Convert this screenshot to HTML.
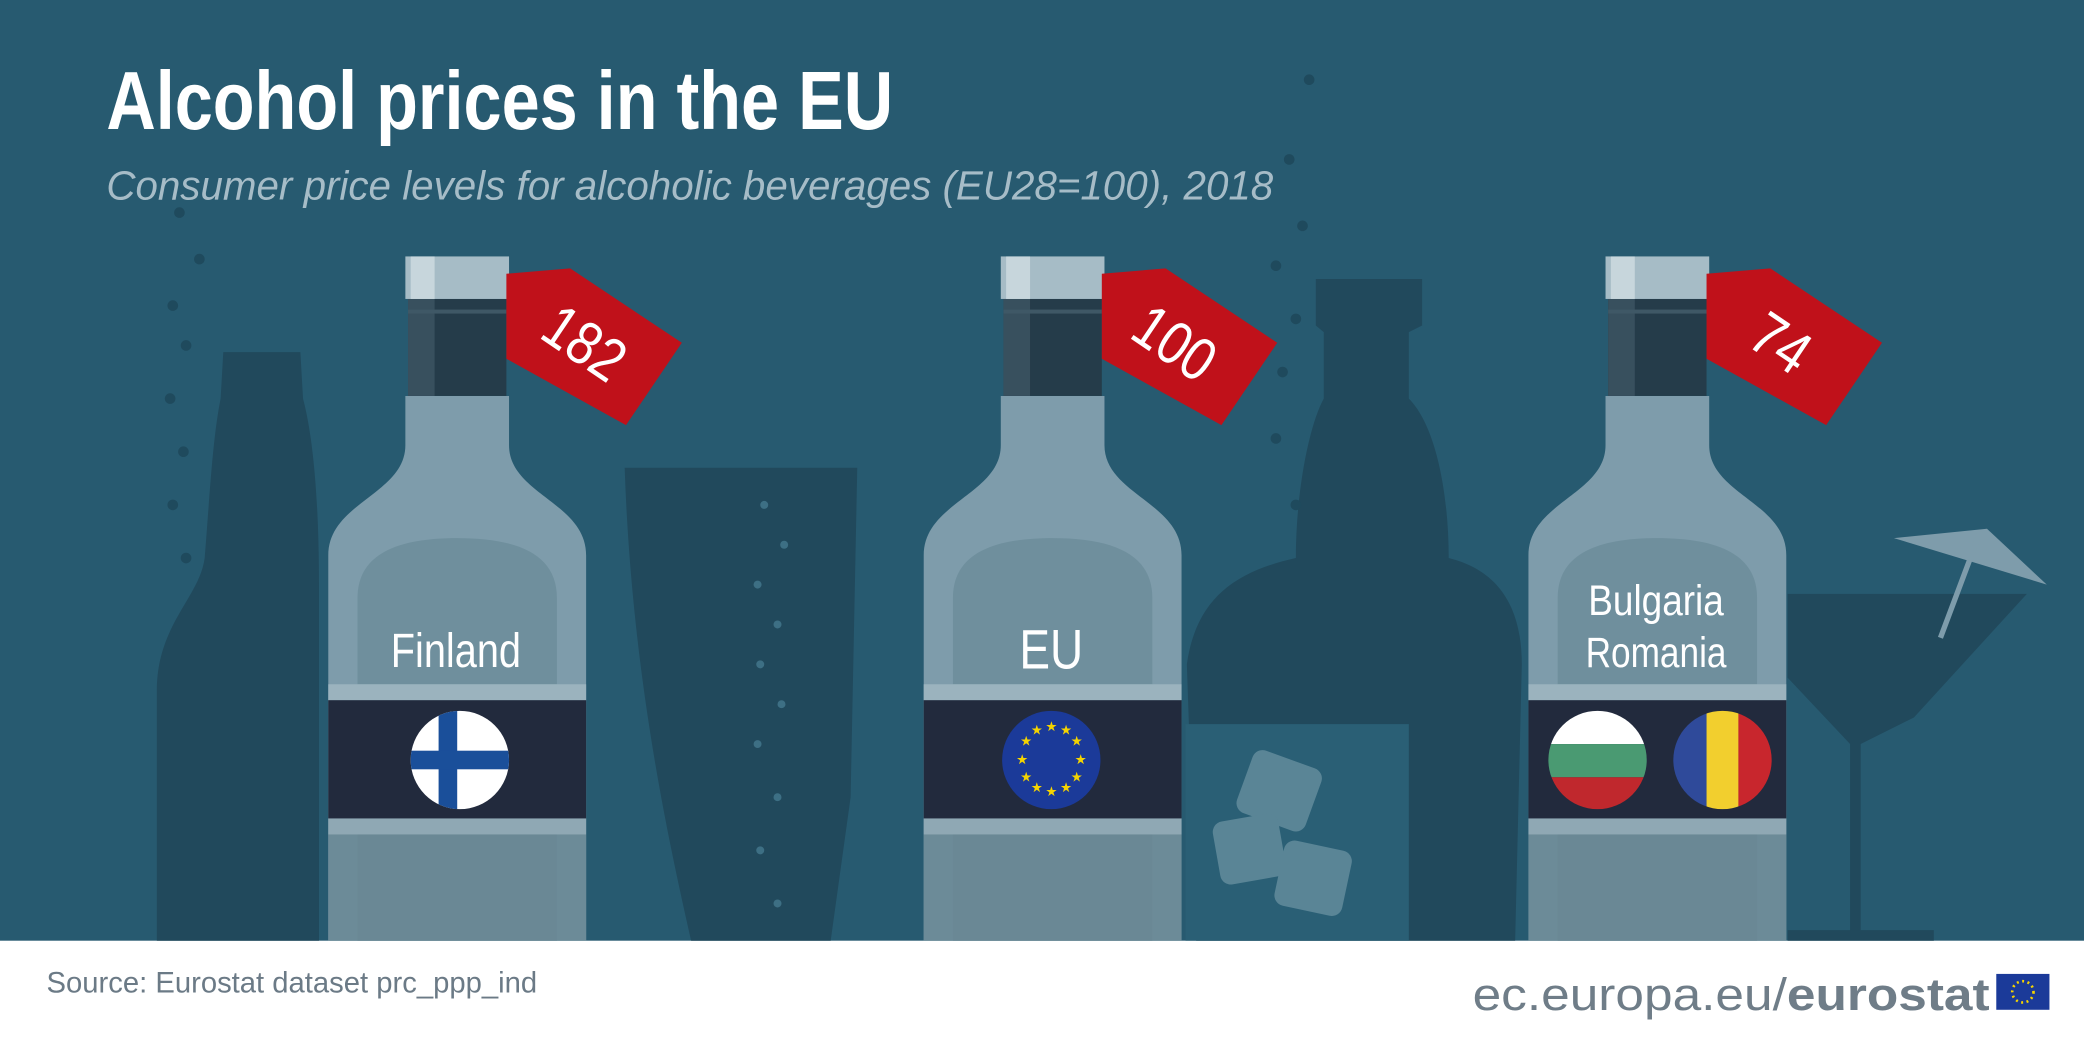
<!DOCTYPE html>
<html><head><meta charset="utf-8"><style>
html,body{margin:0;padding:0;background:#fff}
svg{display:block}
text{font-family:"Liberation Sans",sans-serif}
</style></head><body>
<svg width="2084" height="1043" viewBox="0 0 1568 785" preserveAspectRatio="none" xmlns="http://www.w3.org/2000/svg">
<defs>
<g id="bottle">
  <path d="M58,298 L58,335 C58,372 0,378 0,418 L0,708 L194,708 L194,418 C194,378 136,372 136,335 L136,298 Z" fill="#7e9cab"/>
  <path d="M22,515 L22,450 C22,418 50,405 97,405 C144,405 172,418 172,450 L172,515 Z" fill="#6f8f9d"/>
  <rect x="0" y="628" width="194" height="80" fill="#6c8b98"/>
  <rect x="22" y="628" width="150" height="80" fill="#6a8895"/>
  <rect x="0" y="515" width="194" height="12" fill="#9bb3be"/>
  <rect x="0" y="527" width="194" height="89" fill="#222a3d"/>
  <rect x="0" y="616" width="194" height="12" fill="#8fa8b4"/>
  <rect x="60" y="225" width="74" height="73" fill="#253c4a"/>
  <rect x="60" y="225" width="20" height="73" fill="#38505e"/>
  <rect x="60" y="233" width="74" height="3" fill="#3f5866"/>
  <rect x="58" y="193" width="78" height="32" fill="#a6bcc6"/>
  <rect x="62" y="193" width="18" height="32" fill="#c7d6dc"/>
</g>
<g id="tag">
  <polygon points="0,12 48,8 132,64 90,126 0,76" fill="#c0111a"/>
</g>
</defs>
<rect x="0" y="0" width="1568" height="708" fill="#275a70"/>
<g fill="#21495c">
  <path d="M168,265 L226,265 L228,300 C236,330 240,380 240,440 L240,708 L118,708 L118,520 C118,470 150,450 154,420 C158,370 160,330 166,300 Z"/>
  <path d="M470,352 L645,352 L640,600 L625,708 L520,708 C500,620 475,500 470,352 Z"/>
  <path d="M990,210 L1070,210 L1070,245 L1060,250 L1060,300 C1080,320 1090,370 1090,420 C1130,430 1145,460 1145,500 L1140,708 L900,708 L893,500 C900,450 930,430 975,420 C975,370 985,320 996,300 L996,250 L990,245 Z"/>
  <path d="M1345,447 L1525,447 L1440,540 L1400,560 L1400,700 L1455,700 L1455,708 L1345,708 L1345,700 L1392,700 L1392,560 L1345,510 Z"/>
</g>
<g fill="#2a5f75">
  <rect x="892" y="545" width="168" height="163"/>
</g>
<g fill="#5a8596">
  <rect x="935" y="570" width="55" height="50" rx="8" transform="rotate(20 962 595)"/>
  <rect x="915" y="615" width="50" height="48" rx="8" transform="rotate(-10 940 639)"/>
  <rect x="962" y="636" width="52" height="50" rx="8" transform="rotate(12 988 661)"/>
</g>
<path d="M1425,405 L1495,398 L1540,440 Z" fill="#7e9cab"/>
<line x1="1460" y1="480" x2="1490" y2="400" stroke="#7e9cab" stroke-width="4"/>
<g fill="#1f4a5d">
  <circle cx="130" cy="230" r="4"/><circle cx="140" cy="260" r="4"/><circle cx="128" cy="300" r="4"/><circle cx="138" cy="340" r="4"/><circle cx="130" cy="380" r="4"/><circle cx="140" cy="420" r="4"/><circle cx="150" cy="195" r="4"/><circle cx="135" cy="160" r="4"/>
  <circle cx="960" cy="200" r="4"/><circle cx="975" cy="240" r="4"/><circle cx="965" cy="280" r="4"/><circle cx="980" cy="170" r="4"/><circle cx="970" cy="120" r="4"/><circle cx="985" cy="60" r="4"/><circle cx="960" cy="330" r="4"/><circle cx="975" cy="380" r="4"/>
</g>
<g fill="#3d6f84">
  <circle cx="575" cy="380" r="3"/><circle cx="590" cy="410" r="3"/><circle cx="570" cy="440" r="3"/><circle cx="585" cy="470" r="3"/><circle cx="572" cy="500" r="3"/><circle cx="588" cy="530" r="3"/><circle cx="570" cy="560" r="3"/><circle cx="585" cy="600" r="3"/><circle cx="572" cy="640" r="3"/><circle cx="585" cy="680" r="3"/>
</g>
<use href="#bottle" x="247"/>
<use href="#bottle" x="695"/>
<use href="#bottle" x="1150"/>
<use href="#tag" x="381" y="194"/>
<use href="#tag" x="829" y="194"/>
<use href="#tag" x="1284" y="194"/>
<g fill="#fff" font-size="46" text-anchor="middle">
  <text x="440" y="274" transform="rotate(34 440 258)" textLength="64" lengthAdjust="spacingAndGlyphs">182</text>
  <text x="884" y="274" transform="rotate(34 884 258)" textLength="64" lengthAdjust="spacingAndGlyphs">100</text>
  <text x="1340" y="274" transform="rotate(34 1340 258)" textLength="44" lengthAdjust="spacingAndGlyphs">74</text>
</g>
<g fill="#fff" text-anchor="middle">
  <text x="343" y="502" font-size="36" textLength="98" lengthAdjust="spacingAndGlyphs">Finland</text>
  <text x="791" y="503" font-size="42" textLength="48" lengthAdjust="spacingAndGlyphs">EU</text>
  <text x="1246" y="463" font-size="32" textLength="102" lengthAdjust="spacingAndGlyphs">Bulgaria</text>
  <text x="1246" y="502" font-size="32" textLength="106" lengthAdjust="spacingAndGlyphs">Romania</text>
</g>
<clipPath id="c1"><circle cx="346" cy="572" r="37"/></clipPath>
<g clip-path="url(#c1)"><rect x="300" y="530" width="90" height="90" fill="#fff"/><rect x="330" y="530" width="14" height="90" fill="#1a4f9a"/><rect x="300" y="565" width="90" height="14" fill="#1a4f9a"/></g>
<circle cx="791" cy="572" r="37" fill="#1b3a99"/>
<g fill="#f5d400" font-size="10" text-anchor="middle">
  <text x="791" y="550">★</text><text x="802" y="553">★</text><text x="810" y="561">★</text><text x="813" y="575">★</text><text x="810" y="588">★</text><text x="802" y="596">★</text><text x="791" y="599">★</text><text x="780" y="596">★</text><text x="772" y="588">★</text><text x="769" y="575">★</text><text x="772" y="561">★</text><text x="780" y="553">★</text>
</g>
<clipPath id="c3"><circle cx="1202" cy="572" r="37"/></clipPath>
<g clip-path="url(#c3)"><rect x="1160" y="530" width="90" height="30" fill="#fff"/><rect x="1160" y="560" width="90" height="25" fill="#4a9a72"/><rect x="1160" y="585" width="90" height="30" fill="#c0282d"/></g>
<clipPath id="c4"><circle cx="1296" cy="572" r="37"/></clipPath>
<g clip-path="url(#c4)"><rect x="1255" y="530" width="29" height="90" fill="#2f4a9a"/><rect x="1284" y="530" width="24" height="90" fill="#f2cf2e"/><rect x="1308" y="530" width="30" height="90" fill="#c8262d"/></g>
<text x="80" y="97" font-size="62" font-weight="bold" fill="#fff" textLength="592" lengthAdjust="spacingAndGlyphs">Alcohol prices in the EU</text>
<text x="80" y="150" font-size="31" font-style="italic" fill="#a6bcc7" textLength="878" lengthAdjust="spacingAndGlyphs">Consumer price levels for alcoholic beverages (EU28=100), 2018</text>
<text x="35" y="747" font-size="22" fill="#6b7a86">Source: Eurostat dataset prc_ppp_ind</text>
<text x="1108" y="760" font-size="34" fill="#6f7d88" textLength="389" lengthAdjust="spacingAndGlyphs">ec.europa.eu/<tspan font-weight="bold">eurostat</tspan></text>
<rect x="1502" y="733" width="40" height="27" fill="#1b3a99"/>
<circle cx="1522" cy="746.5" r="8" fill="none" stroke="#f5d400" stroke-width="2" stroke-dasharray="1.5 2.6"/>
</svg>
</body></html>
